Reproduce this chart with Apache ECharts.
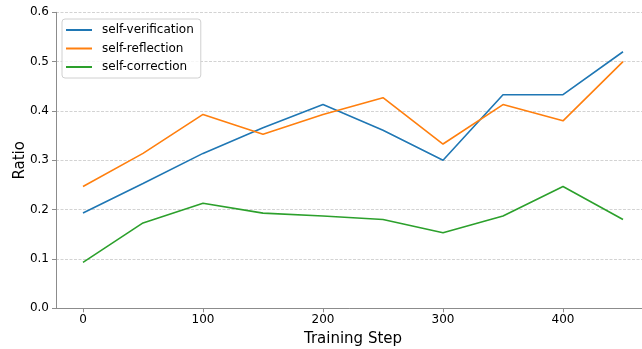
<!DOCTYPE html>
<html>
<head>
<meta charset="utf-8">
<script src="https://cdn.jsdelivr.net/npm/echarts@6/dist/echarts.min.js"></script>
<style>html,body{margin:0;padding:0;background:#fff}#c{width:642px;height:349px}</style>
</head>
<body>
<div id="c"></div>
<script>
var steps = [0, 50, 100, 150, 200, 250, 300, 350, 400, 450];
var selfVerification = [0.193, 0.253, 0.314, 0.366, 0.413, 0.361, 0.300, 0.433, 0.433, 0.520];
var selfReflection   = [0.247, 0.314, 0.393, 0.353, 0.393, 0.427, 0.333, 0.413, 0.380, 0.500];
var selfCorrection   = [0.093, 0.173, 0.213, 0.193, 0.187, 0.180, 0.153, 0.187, 0.247, 0.180];
var seriesNames = ['self-verification', 'self-reflection', 'self-correction'];
var colors = ['#1f77b4', '#ff7f0e', '#2ca02c'];
var xTicks = [0, 100, 200, 300, 400];
var yTicks = [0.0, 0.1, 0.2, 0.3, 0.4, 0.5, 0.6];

function pairs(ys) { return steps.map(function (s, i) { return [s, ys[i]]; }); }
var font = 'DejaVu Sans';
var chart = echarts.init(document.getElementById('c'), null, {renderer: 'canvas'});
var data = [selfVerification, selfReflection, selfCorrection];
chart.setOption({
  animation: false,
  backgroundColor: '#fff',
  grid: {left: 56, right: -8, top: 12.3, bottom: 40.7, containLabel: false, outerBoundsMode: 'none'},
  legend: {
    orient: 'vertical', left: 62, top: 19,
    padding: [3, 7, 3, 4],
    icon: 'rect',
    itemWidth: 26, itemHeight: 2, itemGap: 2.5,
    borderColor: '#d0d0d0', borderWidth: 1, borderRadius: 3,
    backgroundColor: 'rgba(255,255,255,0.8)',
    textStyle: {fontFamily: font, fontSize: 12, color: '#000', padding: [0, 0, 0, 5], lineHeight: 16},
    data: seriesNames
  },
  xAxis: {
    type: 'value', min: -22.5, max: 472.5, interval: 100,
    name: 'Training Step', nameLocation: 'middle', nameGap: 23,
    nameTextStyle: {fontFamily: font, fontSize: 15, color: '#000'},
    axisLine: {show: true, onZero: false, lineStyle: {color: '#8c8c8c', width: 1}},
    axisTick: {show: true, length: 4, lineStyle: {color: '#8c8c8c'}, customValues: xTicks},
    axisLabel: {fontFamily: font, fontSize: 12, color: '#000', margin: 6, customValues: xTicks,
      formatter: function (v) { return String(v); }},
    splitLine: {show: false}
  },
  yAxis: {
    type: 'value', min: 0, max: 0.6, interval: 0.1,
    name: 'Ratio', nameLocation: 'middle', nameGap: 28, nameRotate: 90, nameMoveOverlap: false,
    nameTextStyle: {fontFamily: font, fontSize: 15, color: '#000'},
    axisLine: {show: true, onZero: false, lineStyle: {color: '#8c8c8c', width: 1}},
    axisTick: {show: true, length: 4, lineStyle: {color: '#8c8c8c'}},
    axisLabel: {fontFamily: font, fontSize: 12, color: '#000', margin: 7,
      formatter: function (v) { return v.toFixed(1); }},
    splitLine: {show: true, lineStyle: {color: '#c8c8c8', type: [3, 1.5], width: 0.8}}
  },
  series: seriesNames.map(function (n, i) {
    return {
      name: n, type: 'line', data: pairs(data[i]),
      symbol: 'none', color: colors[i],
      lineStyle: {color: colors[i], width: 1.6},
      z: 3
    };
  })
});
</script>
</body>
</html>
